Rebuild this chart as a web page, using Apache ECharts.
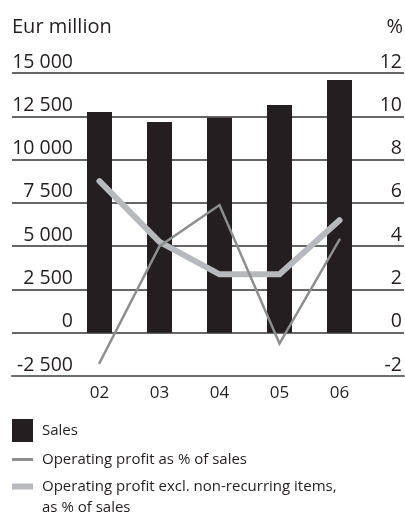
<!DOCTYPE html>
<html>
<head>
<meta charset="utf-8">
<script src="https://cdn.jsdelivr.net/npm/echarts@6/dist/echarts.min.js"></script>
<style>
  html, body { margin: 0; padding: 0; background: #ffffff; }
  #chart { width: 405px; height: 515px; }
</style>
</head>
<body>
<div id="chart"></div>
<script>
// Sales (EUR million) and operating profit margins (%), 2002–2006
const years = ['02', '03', '04', '05', '06'];
const sales = [12750, 12170, 12420, 13150, 14600];
const opProfitPct = [-1.4, 4.0, 5.9, -0.5, 4.3];
const opProfitExclPct = [7.0, 4.2, 2.7, 2.7, 5.2];

const salesTicks = { min: -2500, max: 15000, interval: 2500 };
const pctTicks = { min: -2, max: 12, interval: 2 };

const FONT = '"Open Sans", "Liberation Sans", sans-serif';
const TEXT = '#231f20';
const BAR = '#231f20';
const LINE_DARK = '#8d8e90';
const LINE_LIGHT = '#b8b9bc';

const fmtThousands = v => {
  const s = Math.abs(v).toString().replace(/\B(?=(\d{3})+(?!\d))/g, ' ');
  return (v < 0 ? '-' : '') + s;
};

const GRID_TOP = 73;
const GRID_BOTTOM = 139;

const chart = echarts.init(document.getElementById('chart'), null, { renderer: 'canvas' });

chart.setOption({
  animation: false,
  backgroundColor: '#ffffff',
  textStyle: { fontFamily: FONT, color: TEXT },
  title: [
    { text: 'Eur million', left: 12, top: 17, padding: 0,
      textStyle: { fontFamily: FONT, fontSize: 20, fontWeight: 'normal', color: TEXT } },
    { text: '%', right: 2, top: 17, padding: 0,
      textStyle: { fontFamily: FONT, fontSize: 20, fontWeight: 'normal', color: TEXT } }
  ],
  grid: [
    // full-width frame carrying the horizontal rules and tick labels
    { left: 12, right: 0, top: GRID_TOP, bottom: GRID_BOTTOM },
    // plotting area for the yearly bars and lines
    { left: 69.5, right: 35.5, top: GRID_TOP, bottom: GRID_BOTTOM }
  ],
  xAxis: [
    { gridIndex: 0, type: 'value', min: 0, max: 1,
      axisLine: { show: true, onZero: false, lineStyle: { color: '#6d6e70', width: 2 } },
      axisTick: { show: false }, axisLabel: { show: false }, splitLine: { show: false } },
    { gridIndex: 1, type: 'category', data: years,
      axisLine: { show: false }, axisTick: { show: false }, splitLine: { show: false },
      axisLabel: { fontFamily: FONT, fontSize: 17, color: TEXT, margin: 9 } }
  ],
  yAxis: [
    { gridIndex: 0, type: 'value', position: 'left',
      min: salesTicks.min, max: salesTicks.max, interval: salesTicks.interval,
      axisLine: { show: false }, axisTick: { show: false },
      splitLine: { show: true, lineStyle: { color: '#333333', width: 1.5 } },
      axisLabel: {
        inside: true, margin: 61, align: 'right', verticalAlign: 'bottom',
        fontFamily: FONT, fontSize: 19.5, color: TEXT, padding: [0, 0, 1, 0],
        formatter: fmtThousands,
        showMinLabel: true, showMaxLabel: true
      } },
    { gridIndex: 0, type: 'value', position: 'right',
      min: pctTicks.min, max: pctTicks.max, interval: pctTicks.interval,
      axisLine: { show: false }, axisTick: { show: false }, splitLine: { show: false },
      axisLabel: {
        inside: true, margin: 2, align: 'right', verticalAlign: 'bottom',
        fontFamily: FONT, fontSize: 19.5, color: TEXT, padding: [0, 0, 1, 0],
        showMinLabel: true, showMaxLabel: true
      } },
    { gridIndex: 1, type: 'value', show: false,
      min: salesTicks.min, max: salesTicks.max, interval: salesTicks.interval,
      splitLine: { show: false } },
    { gridIndex: 1, type: 'value', show: false,
      min: pctTicks.min, max: pctTicks.max, interval: pctTicks.interval,
      splitLine: { show: false } }
  ],
  legend: [
    { data: ['Sales'], orient: 'vertical', left: 12, top: 419, padding: 0,
      icon: 'rect', itemWidth: 21, itemHeight: 23,
      textStyle: { fontFamily: FONT, fontSize: 15, color: TEXT, padding: [0, 0, 0, 4] } },
    { data: ['Operating profit as % of sales'], orient: 'vertical', left: 12, top: 452, padding: 0,
      icon: 'rect', itemWidth: 21, itemHeight: 3,
      textStyle: { fontFamily: FONT, fontSize: 15, color: TEXT, padding: [0, 0, 0, 4] } },
    // swatch sits level with the first text line: band on top, empty space below
    { data: ['Operating profit excl. non-recurring items,\nas % of sales'], orient: 'vertical',
      left: 12, top: 476, padding: 0,
      icon: 'path://M0,0H21V6H0Z M0,27L0,27', itemWidth: 21, itemHeight: 27,
      textStyle: { fontFamily: FONT, fontSize: 15, color: TEXT, lineHeight: 21,
                   padding: [0, 0, 0, 4] } }
  ],
  series: [
    { name: 'Sales', type: 'bar', xAxisIndex: 1, yAxisIndex: 2,
      data: sales, barWidth: 25, itemStyle: { color: BAR } },
    { name: 'Operating profit excl. non-recurring items,\nas % of sales', type: 'line',
      xAxisIndex: 1, yAxisIndex: 3, data: opProfitExclPct,
      symbol: 'none', lineStyle: { color: LINE_LIGHT, width: 6, cap: 'round', join: 'miter' },
      itemStyle: { color: LINE_LIGHT } },
    { name: 'Operating profit as % of sales', type: 'line',
      xAxisIndex: 1, yAxisIndex: 3, data: opProfitPct,
      symbol: 'none', lineStyle: { color: LINE_DARK, width: 2.5, cap: 'round', join: 'miter' },
      itemStyle: { color: LINE_DARK } }
  ]
});
</script>
</body>
</html>
